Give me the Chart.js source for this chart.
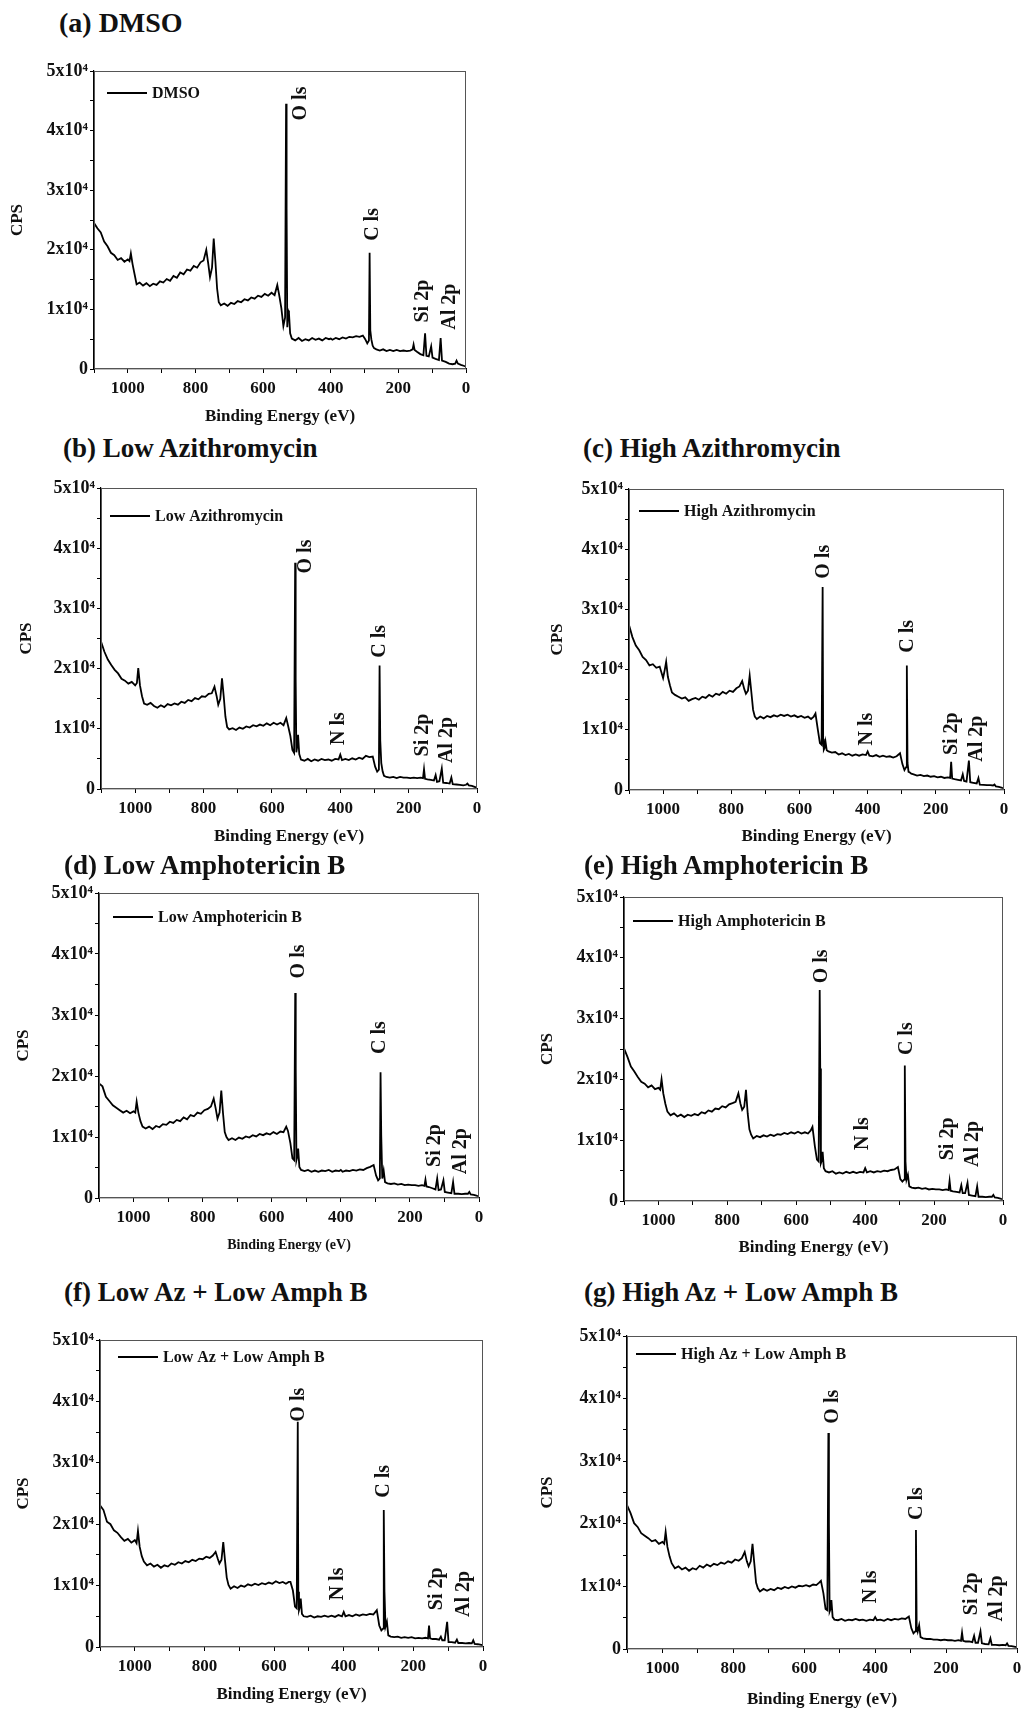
<!DOCTYPE html>
<html>
<head>
<meta charset="utf-8">
<script src="https://cdn.jsdelivr.net/npm/chart.js@4.4.0/dist/chart.umd.min.js"></script>
<style>
  html, body { margin: 0; padding: 0; background: #fff; }
  body { position: relative; width: 1024px; height: 1710px; overflow: hidden; font-family: "Liberation Serif", "Times New Roman", serif; }
  .heading { position: absolute; font-weight: bold; font-size: 27px; line-height: 28px; white-space: nowrap; color: #111; }
  canvas { position: absolute; }
</style>
</head>
<body>
<script>
// binding energy grid shared by every spectrum (eV)
const bindingEnergy = [
  1100, 1090, 1080, 1070, 1060, 1050, 1040, 1030, 1020, 1010,
  1000, 995, 991, 986, 980, 974, 965, 955, 945, 935,
  925, 915, 905, 895, 885, 875, 865, 855, 845, 835,
  825, 815, 805, 795, 785, 776, 768, 762, 757, 751,
  746, 741, 736, 731, 725, 715, 705, 695, 685, 675,
  665, 655, 645, 635, 625, 615, 605, 595, 585, 575,
  566, 558, 553, 546, 540, 535, 532, 530.5, 528.5, 526,
  523.5, 520, 515, 505, 495, 485, 475, 465, 455, 445,
  435, 425, 415, 405, 400, 395, 385, 375, 365, 355,
  345, 335, 325, 315, 305, 298, 292, 287, 285, 283,
  280, 276, 272, 265, 255, 245, 235, 225, 215, 205,
  195, 185, 175, 165, 158, 155, 152, 145, 135, 126,
  121, 117, 110, 103, 99, 90, 80, 75, 71, 60,
  50, 40, 32, 28, 24, 15, 5, 0
];

// counts per second, in thousands
const cpsDMSO = [
  24.5, 23.6, 22.9, 21.4, 20.6, 19.5, 19.1, 18.3, 18.6, 18.0,
  18.4, 18.1, 19.4, 17.6, 15.9, 14.2, 14.5, 14.0, 14.4, 13.9,
  14.3, 14.1, 14.7, 14.5, 15.1, 14.8, 15.6, 15.3, 16.2, 15.9,
  16.7, 16.5, 17.3, 17.0, 17.9, 18.2, 20.0, 17.6, 15.4, 17.0,
  21.9, 18.0, 13.5, 11.2, 10.7, 11.0, 10.6, 11.1, 10.9, 11.4,
  11.2, 11.7, 11.5, 12.0, 11.8, 12.3, 12.1, 12.6, 12.3, 12.8,
  12.4, 14.1, 12.6, 10.2, 7.2, 8.6, 44.5, 27.0, 7.0, 9.8,
  9.4, 6.0, 5.1, 4.8, 5.2, 4.7, 5.0, 4.8, 5.2, 4.9,
  5.1, 4.8, 5.2, 5.0, 5.1, 4.9, 5.2, 5.0, 5.3, 5.1,
  5.4, 5.3, 5.5, 5.4, 5.6, 5.0, 4.3, 4.8, 19.5, 6.5,
  5.0, 3.9, 3.5, 3.3, 3.1, 3.3, 3.0, 3.2, 3.0, 3.2,
  3.0, 3.1, 3.0, 3.1, 3.3, 4.1, 3.2, 2.9, 2.5, 2.3,
  6.0, 2.2, 2.1, 3.8, 1.9, 1.7, 1.5, 5.2, 1.4, 1.2,
  0.9, 0.8, 0.9, 1.4, 0.9, 0.7, 0.5, 0.4
];
const cpsLowAz = [
  24.5, 22.8, 21.5, 20.6, 19.8, 19.2, 18.3, 18.0, 17.5, 17.8,
  17.2, 17.6, 20.1, 17.2, 15.4, 14.2, 14.0, 14.3, 13.8, 13.5,
  13.9, 13.6, 14.1, 13.9, 14.2, 14.0, 14.5, 14.3, 14.8, 14.6,
  15.1, 14.9, 15.4, 15.3, 15.8, 15.9, 17.0, 15.5, 14.0, 15.0,
  18.4, 15.4, 12.0, 10.3, 9.9, 10.1, 9.8, 10.2, 10.0, 10.4,
  10.2, 10.6, 10.4, 10.7, 10.5, 10.9, 10.6, 11.0, 10.7, 11.0,
  10.6, 11.8, 10.6, 8.8, 6.5, 6.0, 37.6, 18.4, 6.1, 7.0,
  9.0, 5.8, 4.9, 4.7, 5.0, 4.6, 4.9, 4.7, 5.0, 4.8,
  4.9, 4.7, 5.0, 4.9, 5.7, 4.8, 5.0, 4.8, 5.1, 4.9,
  5.2, 5.0, 5.5, 5.3, 5.4, 3.7, 2.9, 3.2, 20.5, 8.0,
  4.3, 2.9, 2.2, 2.0, 1.9, 2.0, 1.8, 2.0, 1.9, 1.9,
  1.8, 1.9, 1.8, 1.9, 1.8, 3.3, 1.7, 1.6, 1.5, 1.4,
  2.3, 1.2, 1.3, 3.4, 1.05, 1.0, 0.9, 1.9, 0.8, 0.75,
  0.7, 0.6, 0.7, 0.9, 0.6, 0.5, 0.3, 0.2
];
const cpsHighAz = [
  27.4, 25.4, 24.0, 23.2, 22.1, 21.6, 20.7, 20.9, 20.3, 20.5,
  18.6, 20.0, 21.3, 18.8, 17.4, 16.2, 15.8, 15.5, 15.2, 15.4,
  14.8, 15.1, 15.3, 15.0, 15.5, 15.3, 15.8, 15.5, 16.0, 15.8,
  16.3, 16.0, 16.5, 16.3, 16.9, 17.2, 18.1, 16.8, 16.0, 16.5,
  19.0, 16.2, 13.3, 12.2, 11.8, 12.2, 11.9, 12.3, 12.1, 12.4,
  12.2, 12.5, 12.3, 12.5, 12.2, 12.4, 12.1, 12.3, 12.0, 12.2,
  11.8, 12.2, 12.7, 10.0, 7.8, 7.5, 33.7, 8.5, 6.7, 7.0,
  8.0, 6.6, 6.4, 6.2, 6.3, 5.9, 6.1, 5.8, 6.0, 5.7,
  5.9, 5.7, 5.9, 5.8, 6.4, 5.7, 5.6, 5.8, 5.5, 5.7,
  5.5, 5.6, 5.4, 5.6, 6.1, 4.3, 3.3, 3.8, 20.7, 4.5,
  3.0, 2.9, 2.7, 2.6, 2.4, 2.5, 2.3, 2.4, 2.2, 2.3,
  2.1, 2.2, 2.0, 2.1, 2.0, 4.7, 1.9, 1.8, 1.7, 1.6,
  2.6, 1.5, 1.4, 4.9, 1.3, 1.2, 1.1, 2.0, 0.9, 0.85,
  0.8, 0.8, 0.75, 0.9, 0.6, 0.5, 0.35, 0.3
];
const cpsLowAmph = [
  18.8, 18.3, 16.6, 15.9, 15.2, 14.8, 14.4, 14.0, 14.3, 13.9,
  14.2, 14.0, 15.8, 14.0, 12.6, 11.7, 11.4, 11.7, 11.3, 11.8,
  11.6, 12.1, 12.0, 12.5, 12.3, 12.8, 12.6, 13.2, 12.9, 13.6,
  13.4, 14.0, 13.8, 14.4, 14.6, 15.0, 16.3, 14.6, 13.0, 14.0,
  17.6, 13.9, 10.8, 10.0, 9.5, 9.8, 9.5, 9.9, 9.7, 10.1,
  9.9, 10.3, 10.1, 10.5, 10.3, 10.6, 10.4, 10.8, 10.5, 10.9,
  10.8, 11.7, 11.0, 9.0, 6.5, 6.2, 33.6, 21.2, 6.2, 6.8,
  8.1, 5.1, 4.6, 4.4, 4.6, 4.3, 4.5, 4.3, 4.5, 4.4,
  4.6, 4.3, 4.5, 4.4, 4.6, 4.3, 4.5, 4.4, 4.6, 4.5,
  4.7, 4.6, 4.9, 5.1, 5.4, 3.7, 2.9, 3.2, 20.6, 10.3,
  3.2, 4.5, 2.6, 2.4, 2.3, 2.4, 2.2, 2.3, 2.1, 2.2,
  2.1, 2.1, 2.0, 2.1, 2.0, 3.0, 1.9, 1.8, 1.6, 1.4,
  3.2, 1.3, 1.4, 2.9, 1.0, 0.9, 0.8, 2.6, 0.7, 0.7,
  0.65, 0.7, 0.7, 1.0, 0.6, 0.5, 0.35, 0.3
];
const cpsHighAmph = [
  25.1, 23.7, 22.1, 21.3, 20.4, 19.6, 19.3, 18.7, 19.0, 18.4,
  18.6, 18.3, 20.0, 17.7, 16.0, 14.7, 14.1, 14.4, 13.9, 14.2,
  13.8, 14.2, 14.0, 14.3, 14.1, 14.6, 14.4, 14.9, 14.7, 15.2,
  15.1, 15.6, 15.4, 15.9, 16.1, 16.3, 17.7, 16.0, 15.0, 15.5,
  18.3, 14.4, 11.8, 10.9, 10.3, 10.7, 10.5, 10.8, 10.6, 10.9,
  10.7, 11.0, 10.9, 11.2, 11.0, 11.3, 11.1, 11.4, 11.1, 11.3,
  11.1, 11.6, 12.2, 9.0, 6.8, 6.5, 34.7, 21.8, 6.2, 6.6,
  8.1, 5.4, 4.9, 4.7, 4.9, 4.5, 4.7, 4.5, 4.8, 4.6,
  4.8, 4.6, 4.8, 4.7, 5.4, 4.7, 4.9, 4.7, 4.9, 4.8,
  5.0, 4.9, 5.1, 5.2, 5.6, 3.6, 3.2, 3.5, 22.3, 6.5,
  3.5, 4.3, 2.4, 2.2, 2.1, 2.2, 2.0, 2.1, 1.9, 2.0,
  1.9, 1.9, 1.8, 1.9, 1.8, 3.3, 1.7, 1.6, 1.5, 1.4,
  2.6, 1.3, 1.3, 3.0, 1.0, 0.9, 0.8, 2.4, 0.7, 0.7,
  0.65, 0.7, 0.7, 1.0, 0.6, 0.5, 0.35, 0.3
];
const cpsLowAzLowAmph = [
  23.1, 22.3, 20.4, 20.0, 19.0, 18.6, 17.9, 17.3, 17.6, 17.0,
  17.4, 16.9, 18.9, 16.3, 14.8, 13.9, 13.3, 13.6, 13.1, 13.4,
  12.9, 13.3, 13.1, 13.6, 13.4, 13.8, 13.6, 14.0, 13.8, 14.2,
  14.0, 14.4, 14.3, 14.7, 14.5, 14.9, 15.5, 14.4, 13.6, 14.2,
  17.1, 14.1, 11.3, 10.1, 9.5, 9.9, 9.6, 10.0, 9.8, 10.2,
  10.0, 10.3, 10.1, 10.4, 10.2, 10.5, 10.3, 10.7, 10.4, 10.6,
  10.3, 10.6, 10.6, 9.2, 6.6, 6.3, 36.7, 9.0, 6.0, 6.5,
  7.9, 5.4, 5.0, 4.9, 5.1, 4.8, 5.0, 4.9, 5.1, 4.9,
  5.1, 4.9, 5.2, 5.0, 5.7, 5.0, 5.2, 5.0, 5.3, 5.1,
  5.3, 5.2, 5.4, 5.3, 6.0, 3.5, 2.7, 3.0, 22.3, 9.0,
  3.3, 4.1, 1.9, 1.7, 1.6, 1.7, 1.5, 1.6, 1.5, 1.6,
  1.4, 1.5, 1.4, 1.5, 1.4, 3.5, 1.4, 1.3, 1.3, 1.2,
  1.7, 1.1, 1.1, 4.1, 0.8, 0.8, 0.7, 1.2, 0.65, 0.65,
  0.6, 0.65, 0.6, 1.1, 0.5, 0.45, 0.35, 0.3
];
const cpsHighAzLowAmph = [
  23.0, 21.7, 20.1, 19.5, 18.5, 18.1, 17.7, 17.2, 17.4, 16.8,
  17.1, 16.8, 18.7, 16.3, 14.8, 13.7, 12.9, 13.2, 12.7, 13.0,
  12.5, 12.9, 12.7, 13.3, 13.0, 13.5, 13.2, 13.6, 13.4, 13.8,
  13.6, 14.0, 13.8, 14.3, 14.1, 14.5, 15.5, 14.0, 13.2, 14.0,
  16.8, 13.7, 10.6, 9.7, 9.2, 9.6, 9.3, 9.6, 9.4, 9.8,
  9.6, 9.9, 9.7, 10.0, 9.8, 10.1, 10.0, 10.2, 10.0, 10.3,
  10.2, 10.6, 10.9, 8.9, 6.4, 6.2, 34.5, 20.1, 6.0, 6.4,
  7.8, 5.1, 4.7, 4.6, 4.8, 4.5, 4.7, 4.6, 4.8, 4.6,
  4.7, 4.5, 4.7, 4.6, 5.1, 4.6, 4.7, 4.5, 4.8, 4.6,
  4.8, 4.7, 4.9, 4.8, 5.2, 3.3, 2.5, 2.8, 19.0, 3.6,
  2.8, 3.8, 1.9, 1.7, 1.6, 1.6, 1.5, 1.5, 1.4, 1.5,
  1.4, 1.4, 1.3, 1.4, 1.3, 2.6, 1.3, 1.2, 1.2, 1.1,
  2.1, 1.0, 1.0, 2.8, 0.9, 0.8, 0.75, 1.7, 0.65, 0.65,
  0.6, 0.65, 0.6, 0.9, 0.5, 0.45, 0.35, 0.3
];

// labelled ticks
const energyTicks = [0, 200, 400, 600, 800, 1000];
const cpsTicks = [0, 10000, 20000, 30000, 40000, 50000];

const FONT = '"Liberation Serif", "Times New Roman", serif';

// layout of each panel: plot box [left, top, right, bottom] in page pixels,
// peak labels as [text, eV, kCPS at the foot of the rotated text]
const panels = [
  { heading: '(a) DMSO', head: [59, 23, 28], legend: 'DMSO', counts: cpsDMSO,
    box: [94, 71, 466, 369], cpsX: 18, xTitleGap: 48, xTitleSize: 17, legendAt: [13, 22],
    labels: [['O ls', 489, 41.7], ['C ls', 276, 21.5], ['Si 2p', 128, 7.8], ['Al 2p', 47, 6.6]] },
  { heading: '(b) Low Azithromycin', head: [63, 448, 27], legend: 'Low Azithromycin', counts: cpsLowAz,
    box: [101, 488, 477, 789], cpsX: 27, xTitleGap: 48, xTitleSize: 17, legendAt: [9, 28],
    labels: [['O ls', 500, 35.8], ['C ls', 283, 21.8], ['N ls', 405, 7.3], ['Si 2p', 158, 5.4], ['Al 2p', 88, 4.3]] },
  { heading: '(c) High Azithromycin', head: [583, 448, 27], legend: 'High Azithromycin', counts: cpsHighAz,
    box: [629, 489, 1004, 790], cpsX: 558, xTitleGap: 47, xTitleSize: 17, legendAt: [10, 22],
    labels: [['O ls', 529, 35.1], ['C ls', 282, 22.8], ['N ls', 402, 7.4], ['Si 2p', 154, 5.8], ['Al 2p', 81, 4.7]] },
  { heading: '(d) Low Amphotericin B', head: [64, 865, 27], legend: 'Low Amphotericin B', counts: cpsLowAmph,
    box: [99, 893, 479, 1198], cpsX: 24, xTitleGap: 48, xTitleSize: 14, legendAt: [14, 24],
    labels: [['O ls', 522, 36.0], ['C ls', 286, 23.6], ['Si 2p', 129, 5.1], ['Al 2p', 54, 3.9]] },
  { heading: '(e) High Amphotericin B', head: [584, 865, 27], legend: 'High Amphotericin B', counts: cpsHighAmph,
    box: [624, 897, 1003, 1201], cpsX: 548, xTitleGap: 47, xTitleSize: 17, legendAt: [9, 24],
    labels: [['O ls', 527, 35.8], ['C ls', 280, 24.0], ['N ls', 406, 8.4], ['Si 2p', 159, 6.7], ['Al 2p', 89, 5.6]] },
  { heading: '(f) Low Az + Low Amph B', head: [64, 1292, 27], legend: 'Low Az + Low Amph B', counts: cpsLowAzLowAmph,
    box: [100, 1340, 483, 1647], cpsX: 24, xTitleGap: 48, xTitleSize: 17, legendAt: [18, 17],
    labels: [['O ls', 530, 36.7], ['C ls', 286, 24.3], ['N ls', 417, 7.6], ['Si 2p', 132, 6.0], ['Al 2p', 54, 4.9]] },
  { heading: '(g) High Az + Low Amph B', head: [584, 1292, 27], legend: 'High Az + Low Amph B', counts: cpsHighAzLowAmph,
    box: [627, 1336, 1017, 1649], cpsX: 548, xTitleGap: 51, xTitleSize: 17, legendAt: [9, 18],
    labels: [['O ls', 520, 36.0], ['C ls', 282, 20.6], ['N ls', 411, 7.3], ['Si 2p', 126, 5.4], ['Al 2p', 56, 4.4]] }
];

// frame, legend and rotated peak labels
const decor = {
  id: 'decor',
  afterDraw(chart, args, opts) {
    const { ctx, chartArea: a, scales: { x, y } } = chart;
    ctx.save();
    ctx.strokeStyle = '#555';
    ctx.lineWidth = 1;
    ctx.strokeRect(a.left + 0.5, a.top + 0.5, a.right - a.left - 1, a.bottom - a.top - 1);

    const lx = a.left + opts.legendAt[0], ly = a.top + opts.legendAt[1];
    ctx.strokeStyle = '#000';
    ctx.lineWidth = 1.8;
    ctx.beginPath();
    ctx.moveTo(lx, ly);
    ctx.lineTo(lx + 40, ly);
    ctx.stroke();
    ctx.fillStyle = '#111';
    ctx.font = 'bold 16px ' + FONT;
    ctx.textBaseline = 'middle';
    ctx.fillText(opts.legend, lx + 45, ly + 1);

    ctx.font = 'bold 20px ' + FONT;
    opts.labels.forEach(([text, e, k]) => {
      ctx.save();
      ctx.translate(x.getPixelForValue(e), y.getPixelForValue(k * 1000));
      ctx.rotate(-Math.PI / 2);
      ctx.textAlign = 'left';
      ctx.textBaseline = 'middle';
      ctx.fillText(text, 0, 0);
      ctx.restore();
    });
    ctx.restore();
  }
};

panels.forEach(p => {
  const [l, t, r, b] = p.box;
  const h = document.createElement('div');
  h.className = 'heading';
  h.textContent = p.heading;
  h.style.left = p.head[0] + 'px';
  h.style.top = (p.head[1] - 14) + 'px';
  h.style.fontSize = p.head[2] + 'px';
  document.body.appendChild(h);

  const padTop = 14, padRight = 12;
  const canvasLeft = p.cpsX - 12;
  const axisW = l - canvasLeft;
  const axisH = Math.round(p.xTitleGap + p.xTitleSize * 0.6 + 4);
  const cv = document.createElement('canvas');
  cv.width = (r - l) + axisW + padRight;
  cv.height = padTop + (b - t) + axisH;
  cv.style.left = canvasLeft + 'px';
  cv.style.top = (t - padTop) + 'px';
  document.body.appendChild(cv);

  const points = bindingEnergy.map((e, i) => ({ x: e, y: p.counts[i] * 1000 }));

  new Chart(cv, {
    type: 'line',
    data: {
      datasets: [{
        label: p.legend,
        data: points,
        borderColor: '#000',
        borderWidth: 1.8,
        pointRadius: 0,
        tension: 0,
      }],
    },
    options: {
      responsive: false,
      devicePixelRatio: 1,
      animation: false,
      layout: { padding: { top: padTop, right: padRight, left: 0, bottom: 0 } },
      plugins: {
        legend: { display: false },
        tooltip: { enabled: false },
        decor: { legend: p.legend, legendAt: p.legendAt, labels: p.labels },
      },
      scales: {
        x: {
          type: 'linear',
          reverse: true,
          min: 0,
          max: 1100,
          afterFit: s => { s.height = axisH; },
          grid: { drawOnChartArea: false, drawTicks: true, tickLength: 4, color: '#000' },
          border: { display: true, color: '#000', width: 1.2 },
          ticks: {
            stepSize: 100,
            autoSkip: false,
            maxRotation: 0,
            padding: 5,
            color: '#111',
            font: { family: FONT, size: 17, weight: 'bold' },
            callback: v => energyTicks.includes(v) ? String(v) : '',
          },
          title: {
            display: true,
            text: 'Binding Energy (eV)',
            color: '#111',
            font: { family: FONT, size: p.xTitleSize, weight: 'bold' },
            padding: { top: 0, bottom: 4 },
          },
        },
        y: {
          min: 0,
          max: 50000,
          afterFit: s => { s.width = axisW; },
          grid: { drawOnChartArea: false, drawTicks: true, tickLength: 4, color: '#000' },
          border: { display: true, color: '#000', width: 1.2 },
          ticks: {
            stepSize: 5000,
            autoSkip: false,
            padding: 2,
            color: '#111',
            font: { family: FONT, size: 18, weight: 'bold' },
            callback: v => cpsTicks.includes(v) ? (v === 0 ? '0' : (v / 10000) + 'x10\u2074') : '',
          },
          title: {
            display: true,
            text: 'CPS',
            color: '#111',
            font: { family: FONT, size: 17, weight: 'bold' },
            padding: { top: 12 - 17 * 0.6, bottom: 0 },
          },
        },
      },
    },
    plugins: [decor],
  });
});
</script>
</body>
</html>
